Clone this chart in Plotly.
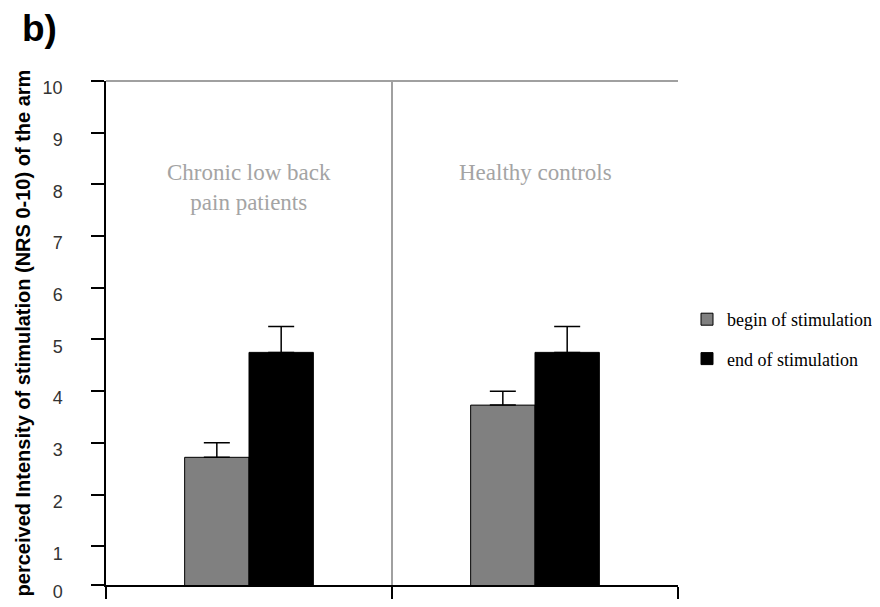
import plotly.graph_objects as go

# ---- data ----
groups = ["Chronic low back pain patients", "Healthy controls"]
group_labels = ["Chronic low back<br>pain patients", "Healthy controls"]
series_names = ["begin of stimulation", "end of stimulation"]
begin_vals = [2.72, 3.73]
begin_err = [0.28, 0.27]
end_vals = [4.75, 4.75]
end_err = [0.5, 0.5]
ytick_vals = [0.25, 1, 2, 3, 4, 5, 6, 7, 8, 9, 10]
ytick_text = ["0", "1", "2", "3", "4", "5", "6", "7", "8", "9", "10"]
y_title = "perceived Intensity of stimulation (NRS 0-10) of the arm"

# page body has an 8px margin; work in figure coordinates
OFF = 8
W, H = 880 - OFF, 607 - OFF
L, R, T, B = 106 - OFF, 678 - OFF, 81 - OFF, 585 - OFF

def px_x(p):
    return (p - OFF - L) / (R - L)

def px_y(p):
    return (B - (p - OFF)) / (B - T)

fig = go.Figure()
fig.add_trace(go.Bar(
    x=groups, y=begin_vals, name=series_names[0],
    marker=dict(color="#808080", line=dict(color="black", width=1)),
    error_y=dict(type="data", symmetric=False, array=begin_err, arrayminus=[0, 0],
                 color="black", thickness=1.5, width=13),
    legendgroup="a",
))
fig.add_trace(go.Bar(
    x=groups, y=end_vals, name=series_names[1],
    marker=dict(color="black", line=dict(color="black", width=1)),
    error_y=dict(type="data", symmetric=False, array=end_err, arrayminus=[0, 0],
                 color="black", thickness=1.5, width=13),
    legendgroup="b",
))

label_y = [187, 172]
for g, lab, ly in zip(groups, group_labels, label_y):
    fig.add_annotation(x=g, y=px_y(ly), xref="x", yref="paper", text=lab,
                       showarrow=False, yanchor="middle",
                       font=dict(family="Liberation Serif", size=23, color="#a4a4a4"))

fig.add_annotation(x=px_x(20), y=px_y(6), xref="paper", yref="paper", text="<b>b)</b>",
                   showarrow=False, xanchor="left", yanchor="top",
                   font=dict(family="Liberation Sans", size=37, color="black"))

# top border line
fig.add_shape(type="line", xref="paper", yref="paper", x0=0, x1=1, y0=1, y1=1,
              line=dict(color="#a0a0a0", width=2))

fig.update_layout(
    width=W, height=H,
    margin=dict(l=L, r=W - R, t=T, b=H - B, autoexpand=False),
    paper_bgcolor="white", plot_bgcolor="white",
    barmode="group", bargap=0.55, bargroupgap=0,
    font=dict(family="Liberation Sans", color="#333"),
    legend=dict(x=px_x(687), y=px_y(301), xanchor="left", yanchor="top",
                font=dict(family="Liberation Serif", size=18, color="black"),
                tracegroupgap=13, bgcolor="rgba(0,0,0,0)"),
    xaxis=dict(showticklabels=False, tickson="boundaries", ticks="outside",
               ticklen=12, tickcolor="black", tickwidth=2,
               showline=True, linecolor="black", linewidth=1.5,
               showgrid=True, gridcolor="#a0a0a0", gridwidth=2, zeroline=False),
    yaxis=dict(range=[0.25, 10], tickvals=ytick_vals, ticktext=ytick_text,
               ticks="outside", ticklen=13, tickcolor="black", tickwidth=1.5,
               showline=True, linecolor="black", linewidth=1.5,
               showgrid=False, zeroline=False,
               tickfont=dict(family="Liberation Sans", size=18, color="#333"),
               ticklabelstandoff=25, ticklabelshift=7,
               title=dict(text="<b>" + y_title + "</b>", standoff=7,
                          font=dict(family="Liberation Sans", size=20, color="black"))),
)

fig.write_html("out.html")
